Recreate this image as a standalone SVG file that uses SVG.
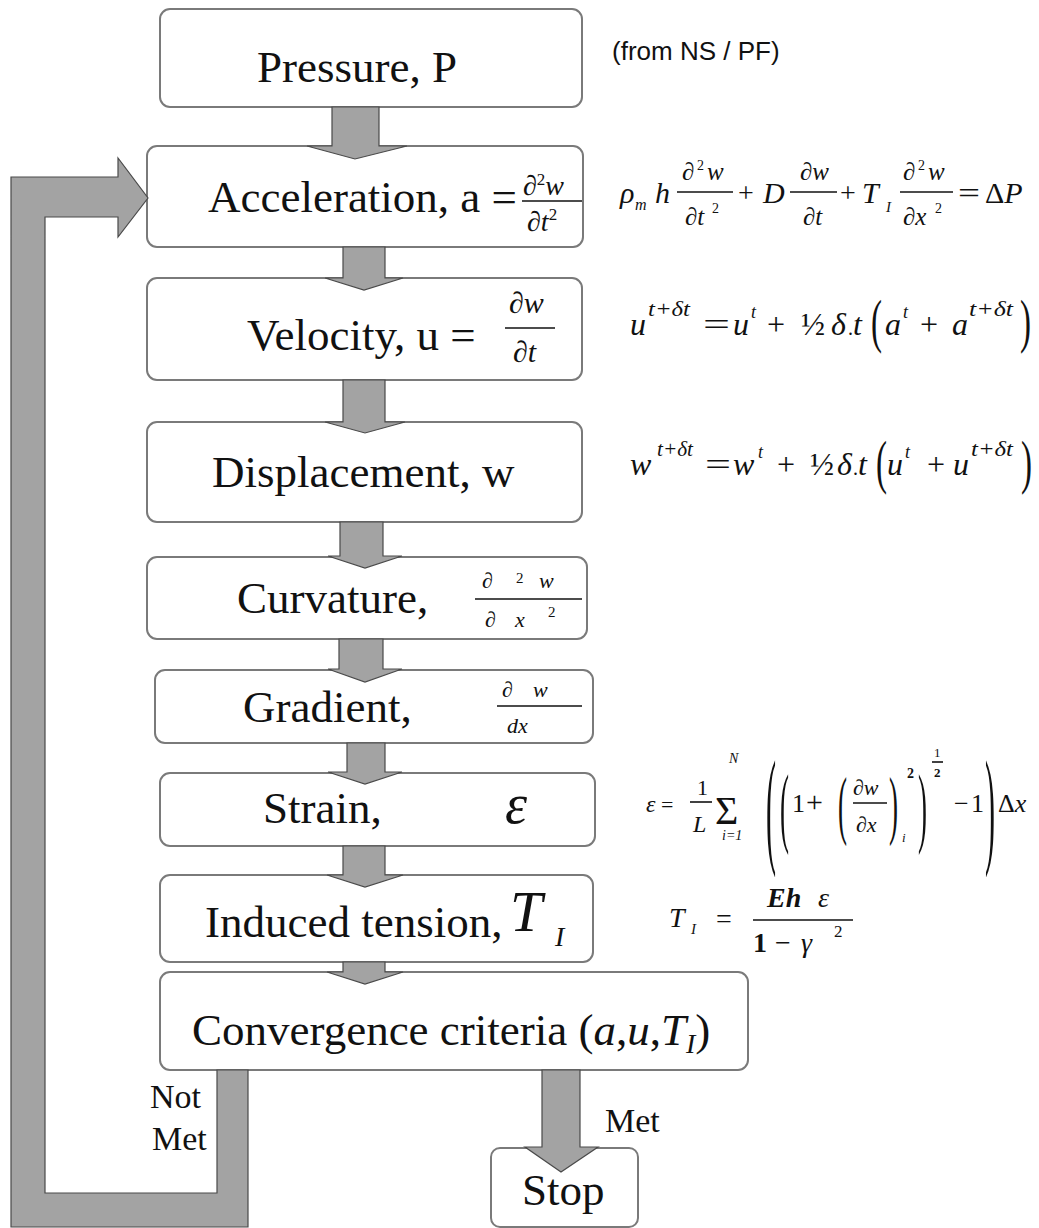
<svg xmlns="http://www.w3.org/2000/svg" width="1039" height="1228" viewBox="0 0 1039 1228">
<style>
.box{fill:#fff;stroke:#7a7a7a;stroke-width:2}
.arr{fill:#a3a3a3;stroke:#4a4a4a;stroke-width:1.2;stroke-linejoin:miter}
.t{font-family:"Liberation Serif","Times New Roman","DejaVu Serif",serif;font-size:45px;fill:#111}
.m{font-family:"Liberation Serif","Times New Roman","DejaVu Serif",serif;font-style:italic;fill:#111}
.u{font-family:"Liberation Serif","Times New Roman","DejaVu Serif",serif;fill:#111}
.s{font-family:"Liberation Sans",Arial,sans-serif;font-size:26px;fill:#111}
.fl{stroke:#111;stroke-width:1.6}
</style>
<rect width="1039" height="1228" fill="#fff"/>
<g id="n-pressure">
<rect class="box" x="160" y="9" width="422" height="98" rx="10"/>
<text class="t" x="257" y="82">Pressure, P</text>
</g>
<text class="s" x="612" y="60">(from NS / PF)</text>
<g id="n-acceleration">
<rect class="box" x="147" y="146" width="436" height="101" rx="10"/>
<text class="t" x="208" y="212">Acceleration, a =</text>
<text class="m" x="523" y="195" font-size="28">∂<tspan font-size="17" dy="-10" font-style="normal">2</tspan><tspan dy="10">w</tspan></text>
<line class="fl" x1="522" y1="201" x2="582" y2="201"/>
<text class="m" x="527" y="231" font-size="28">∂t<tspan font-size="17" dy="-11" font-style="normal">2</tspan></text>
</g>
<g id="n-velocity">
<rect class="box" x="147" y="278" width="435" height="102" rx="10"/>
<text class="t" x="247" y="350">Velocity, u =</text>
<text class="m" x="509" y="313" font-size="30">∂w</text>
<line class="fl" x1="505" y1="328" x2="555" y2="328"/>
<text class="m" x="513" y="362" font-size="30">∂t</text>
</g>
<g id="n-displacement">
<rect class="box" x="147" y="422" width="435" height="100" rx="10"/>
<text class="t" x="212" y="487">Displacement, w</text>
</g>
<g id="n-curvature">
<rect class="box" x="147" y="557" width="440" height="82" rx="10"/>
<text class="t" x="237" y="613">Curvature,</text>
<text class="m" x="482" y="588" font-size="22">∂</text>
<text class="u" x="516" y="583" font-size="15">2</text>
<text class="m" x="539" y="588" font-size="22">w</text>
<line class="fl" x1="475" y1="599" x2="582" y2="599"/>
<text class="m" x="485" y="627" font-size="22">∂</text>
<text class="m" x="515" y="627" font-size="22">x</text>
<text class="u" x="548" y="617" font-size="15">2</text>
</g>
<g id="n-gradient">
<rect class="box" x="155" y="670" width="438" height="73" rx="10"/>
<text class="t" x="243" y="722">Gradient,</text>
<text class="m" x="502" y="697" font-size="22">∂</text>
<text class="m" x="533" y="697" font-size="22">w</text>
<line class="fl" x1="497" y1="706" x2="582" y2="706"/>
<text class="m" x="507" y="733" font-size="22">dx</text>
</g>
<g id="n-strain">
<rect class="box" x="160" y="773" width="435" height="73" rx="10"/>
<text class="t" x="263" y="823">Strain,</text>
<text class="m" x="505" y="823" font-size="56">ε</text>
</g>
<g id="n-tension">
<rect class="box" x="160" y="875" width="433" height="87" rx="10"/>
<text class="t" x="205" y="937">Induced tension,</text>
<text class="m" x="510" y="931" font-size="58">T</text>
<text class="m" x="555" y="946" font-size="28">I</text>
</g>
<g id="n-convergence">
<rect class="box" x="160" y="972" width="588" height="98" rx="10"/>
<text class="t" x="192" y="1045">Convergence criteria (<tspan font-style="italic">a</tspan>,<tspan font-style="italic">u</tspan>,<tspan font-style="italic">T</tspan><tspan font-style="italic" font-size="28" dy="8">I</tspan><tspan dy="-8">)</tspan></text>
</g>
<g id="n-stop">
<rect class="box" x="491" y="1148" width="147" height="79" rx="9"/>
<text class="t" x="522" y="1205">Stop</text>
</g>
<g id="connectors">
<polygon class="arr" points="332,107 379,107 379,146 407,146 355,159 307,146 332,146"/>
<polygon class="arr" points="343,247 385,247 385,278 403,278 364,290 325,278 343,278"/>
<polygon class="arr" points="343,380 385,380 385,422 405,422 365,433 325,422 343,422"/>
<polygon class="arr" points="340,522 383,522 383,556 402,556 365,568 328,556 340,556"/>
<polygon class="arr" points="339,639 383,639 383,669 402,669 365,682 328,669 339,669"/>
<polygon class="arr" points="347,743 385,743 385,772 402,772 365,784 328,772 347,772"/>
<polygon class="arr" points="343,846 385,846 385,875 403,875 365,887 327,875 343,875"/>
<polygon class="arr" points="343,962 385,962 385,972 403,972 365,984 327,972 343,972"/>
<polygon class="arr" points="542,1070 580,1070 580,1147 598,1147 561,1172 525,1147 542,1147"/>
<polygon class="arr" points="248,1070 248,1227 11,1227 11,177 118,177 118,158 148,198 118,237 118,217 45,217 45,1193 217,1193 217,1070"/>
</g>
<g id="labels">
<text class="u" x="150" y="1108" font-size="34">Not</text>
<text class="u" x="152" y="1150" font-size="34">Met</text>
<text class="u" x="605" y="1132" font-size="34">Met</text>
</g>
<g id="eq-motion">
<text class="m" x="620" y="203" font-size="30">ρ</text>
<text class="m" x="635" y="210" font-size="16">m</text>
<text class="m" x="655" y="203" font-size="30">h</text>
<text class="m" x="682" y="180" font-size="25">∂</text>
<text class="u" x="697" y="170" font-size="14">2</text>
<text class="m" x="707" y="180" font-size="25">w</text>
<line class="fl" x1="677" y1="192" x2="733" y2="192"/>
<text class="m" x="685" y="225" font-size="25">∂t</text>
<text class="u" x="712" y="213" font-size="14">2</text>
<text class="u" x="738" y="202" font-size="28">+</text>
<text class="m" x="763" y="203" font-size="30">D</text>
<text class="m" x="800" y="180" font-size="25">∂w</text>
<line class="fl" x1="790" y1="192" x2="837" y2="192"/>
<text class="m" x="803" y="225" font-size="25">∂t</text>
<text class="u" x="840" y="202" font-size="28">+</text>
<text class="m" x="862" y="203" font-size="30">T</text>
<text class="m" x="886" y="212" font-size="15">I</text>
<text class="m" x="903" y="180" font-size="25">∂</text>
<text class="u" x="918" y="170" font-size="14">2</text>
<text class="m" x="928" y="180" font-size="25">w</text>
<line class="fl" x1="900" y1="192" x2="953" y2="192"/>
<text class="m" x="903" y="225" font-size="25">∂x</text>
<text class="u" x="935" y="213" font-size="14">2</text>
<text class="u" x="958" y="203" font-size="30" textLength="22" lengthAdjust="spacingAndGlyphs">=</text>
<text class="u" x="985" y="203" font-size="30">Δ<tspan font-style="italic">P</tspan></text>
</g>
<g id="eq-velocity">
<text class="m" x="630" y="335" font-size="32">u</text>
<text class="m" x="648" y="316" font-size="20" textLength="42" lengthAdjust="spacingAndGlyphs">t+δt</text>
<text class="u" x="703" y="335" font-size="32" textLength="27" lengthAdjust="spacingAndGlyphs">=</text>
<text class="m" x="733" y="335" font-size="32">u</text>
<text class="m" x="751" y="318" font-size="18">t</text>
<text class="u" x="767" y="335" font-size="32">+</text>
<text class="u" x="801" y="335" font-size="32">½</text>
<text class="m" x="831" y="335" font-size="32">δ</text>
<text class="u" x="848" y="335" font-size="20">.</text>
<text class="m" x="853" y="335" font-size="32">t</text>
<text class="u" x="871" y="341" font-size="60" textLength="11" lengthAdjust="spacingAndGlyphs">(</text>
<text class="m" x="885" y="335" font-size="32">a</text>
<text class="m" x="903" y="318" font-size="18">t</text>
<text class="u" x="920" y="335" font-size="32">+</text>
<text class="m" x="952" y="335" font-size="32">a</text>
<text class="m" x="969" y="316" font-size="20" textLength="44" lengthAdjust="spacingAndGlyphs">t+δt</text>
<text class="u" x="1020" y="341" font-size="60" textLength="11" lengthAdjust="spacingAndGlyphs">)</text>
</g>
<g id="eq-displacement">
<text class="m" x="630" y="475" font-size="32">w</text>
<text class="m" x="657" y="456" font-size="20" textLength="36" lengthAdjust="spacingAndGlyphs">t+δt</text>
<text class="u" x="705" y="475" font-size="32" textLength="26" lengthAdjust="spacingAndGlyphs">=</text>
<text class="m" x="733" y="475" font-size="32">w</text>
<text class="m" x="758" y="458" font-size="18">t</text>
<text class="u" x="777" y="475" font-size="32">+</text>
<text class="u" x="810" y="475" font-size="32">½</text>
<text class="m" x="837" y="475" font-size="32">δ</text>
<text class="u" x="853" y="475" font-size="20">.</text>
<text class="m" x="858" y="475" font-size="32">t</text>
<text class="u" x="876" y="482" font-size="60" textLength="11" lengthAdjust="spacingAndGlyphs">(</text>
<text class="m" x="887" y="475" font-size="32">u</text>
<text class="m" x="905" y="458" font-size="18">t</text>
<text class="u" x="927" y="475" font-size="32">+</text>
<text class="m" x="953" y="475" font-size="32">u</text>
<text class="m" x="971" y="456" font-size="20" textLength="42" lengthAdjust="spacingAndGlyphs">t+δt</text>
<text class="u" x="1021" y="482" font-size="60" textLength="11" lengthAdjust="spacingAndGlyphs">)</text>
</g>
<g id="eq-strain">
<text class="m" x="646" y="812" font-size="24">ε</text>
<text class="u" x="661" y="812" font-size="22">=</text>
<text class="u" x="697" y="795" font-size="22">1</text>
<line class="fl" x1="690" y1="802" x2="712" y2="802" stroke-width="1.2"/>
<text class="m" x="693" y="832" font-size="24">L</text>
<text class="u" x="715" y="824" font-size="40">Σ</text>
<text class="m" x="729" y="763" font-size="14">N</text>
<text class="m" x="722" y="840" font-size="14">i=1</text>
<text class="u" x="766" y="850" font-size="130" textLength="10" lengthAdjust="spacingAndGlyphs">(</text>
<text class="u" x="780" y="836" font-size="88" textLength="9" lengthAdjust="spacingAndGlyphs">(</text>
<text class="u" x="792" y="812" font-size="26">1</text>
<text class="u" x="806" y="812" font-size="30">+</text>
<text class="u" x="838" y="830" font-size="76" textLength="9" lengthAdjust="spacingAndGlyphs">(</text>
<text class="m" x="853" y="795" font-size="22">∂w</text>
<line class="fl" x1="853" y1="803" x2="887" y2="803" stroke-width="1.2"/>
<text class="m" x="856" y="832" font-size="22">∂x</text>
<text class="u" x="889" y="830" font-size="76" textLength="9" lengthAdjust="spacingAndGlyphs">)</text>
<text class="m" x="902" y="842" font-size="13">i</text>
<text class="u" x="907" y="778" font-size="14" font-weight="bold">2</text>
<text class="u" x="918" y="836" font-size="88" textLength="9" lengthAdjust="spacingAndGlyphs">)</text>
<text class="u" x="934" y="757" font-size="13">1</text>
<line class="fl" x1="932" y1="762" x2="943" y2="762" stroke-width="1"/>
<text class="u" x="934" y="777" font-size="13" font-weight="bold">2</text>
<text class="u" x="954" y="812" font-size="26">−</text>
<text class="u" x="971" y="812" font-size="26">1</text>
<text class="u" x="985" y="850" font-size="130" textLength="10" lengthAdjust="spacingAndGlyphs">)</text>
<text class="u" x="998" y="812" font-size="26">Δ<tspan font-style="italic">x</tspan></text>
</g>
<g id="eq-tension">
<text class="m" x="669" y="927" font-size="28">T</text>
<text class="m" x="691" y="934" font-size="15">I</text>
<text class="u" x="716" y="928" font-size="28">=</text>
<text class="m" x="767" y="907" font-size="28" font-weight="bold">Eh</text>
<text class="m" x="818" y="907" font-size="28">ε</text>
<line class="fl" x1="753" y1="920" x2="853" y2="920" stroke-width="2"/>
<text class="u" x="753" y="952" font-size="28" font-weight="bold">1</text>
<text class="u" x="775" y="952" font-size="28">−</text>
<text class="m" x="801" y="952" font-size="28">γ</text>
<text class="u" x="834" y="937" font-size="17">2</text>
</g>
</svg>
